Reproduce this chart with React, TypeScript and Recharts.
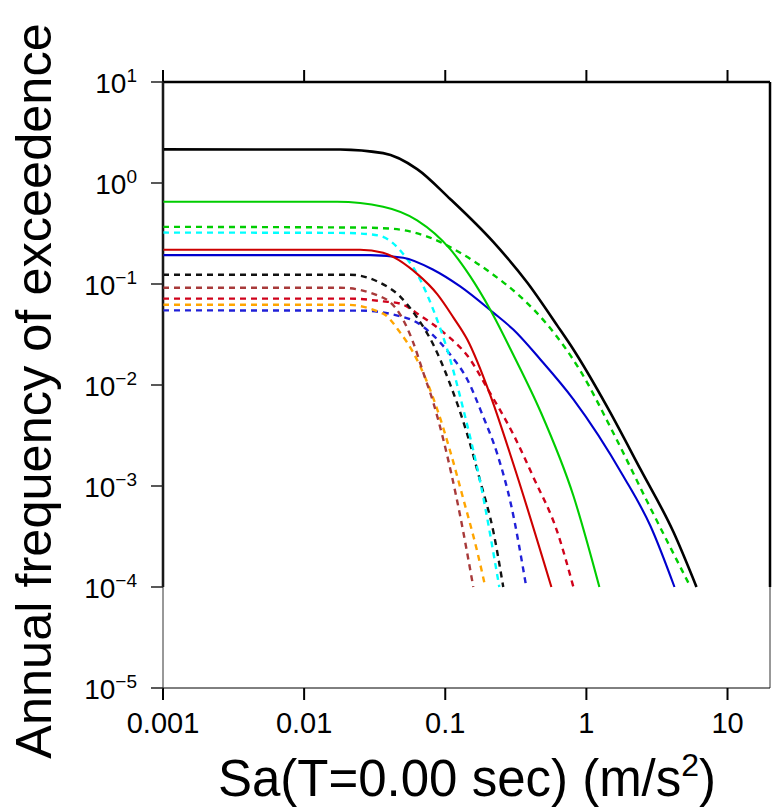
import { LineChart, Line, XAxis, YAxis, ReferenceLine } from 'recharts';

type Pt = [number, number];

// axis ticks
const saTicks = [0.001, 0.01, 0.1, 1, 10];
const saTickLabels = ['0.001', '0.01', '0.1', '1', '10'];
const freqTicks = [1e-5, 1e-4, 1e-3, 1e-2, 1e-1, 1, 10];
const freqExponents = ['−5', '−4', '−3', '−2', '−1', '0', '1'];

// hazard curves: [Sa (m/s2), annual frequency]
const totalSolid: Pt[] = [
  [0.001, 2.153], [0.018, 2.143], [0.0363, 1.977], [0.0632, 1.374], [0.1084, 0.695],
  [0.2188, 0.261], [0.382, 0.1028], [0.622, 0.0387], [0.809, 0.02244], [1.41, 0.006],
  [2.415, 0.001466], [4.14, 0.00035], [6.03, 0.0001],
];
const greenSolid: Pt[] = [
  [0.001, 0.653], [0.01714, 0.653], [0.0363, 0.583], [0.0632, 0.427], [0.1084, 0.2213],
  [0.1503, 0.1189], [0.2084, 0.0557], [0.3034, 0.01995], [0.472, 0.0055], [0.809, 0.0008],
  [1.236, 0.0001],
];
const greenDashed: Pt[] = [
  [0.001, 0.368], [0.02494, 0.362], [0.04276, 0.3516], [0.07447, 0.2951], [0.1276, 0.2037],
  [0.2188, 0.1236], [0.3404, 0.075], [0.5284, 0.0396], [0.9058, 0.0138], [1.552, 0.00335],
  [2.709, 0.000693], [5.47, 0.0001],
];
const cyanDashed: Pt[] = [
  [0.001, 0.323], [0.018, 0.3206], [0.0294, 0.3103], [0.0363, 0.2931], [0.0504, 0.1982],
  [0.0665, 0.1102], [0.0822, 0.0557], [0.1033, 0.02244], [0.1343, 0.00574], [0.177, 0.00109],
  [0.2415, 0.0001],
];
const redSolid: Pt[] = [
  [0.001, 0.218], [0.0249, 0.218], [0.0363, 0.2037], [0.0632, 0.1259], [0.0877, 0.0794],
  [0.114, 0.0468], [0.1432, 0.0282], [0.2084, 0.00794], [0.3034, 0.00166], [0.565, 0.0001],
];
const blueSolid: Pt[] = [
  [0.001, 0.1932], [0.0294, 0.1932], [0.0504, 0.182], [0.0822, 0.1384], [0.1276, 0.0946],
  [0.2188, 0.0521], [0.3034, 0.0354], [0.472, 0.0179], [0.809, 0.00721],
  [1.828, 0.00125], [2.844, 0.000402], [4.21, 0.0001],
];
const blackDashed: Pt[] = [
  [0.001, 0.1236], [0.02118, 0.1236], [0.03296, 0.1062], [0.04797, 0.075], [0.0632, 0.04645],
  [0.0822, 0.02518], [0.1084, 0.01014], [0.1432, 0.00325], [0.177, 0.001117], [0.2188, 0.000358],
  [0.2576, 0.0001],
];
const brownDashed: Pt[] = [
  [0.001, 0.0918], [0.018, 0.0918], [0.0363, 0.0731], [0.04797, 0.0497], [0.0593, 0.0263],
  [0.0698, 0.0133], [0.0822, 0.00673], [0.0968, 0.0029], [0.1276, 0.000505], [0.158, 0.0001],
];
const redDashed: Pt[] = [
  [0.001, 0.0716], [0.02118, 0.0716], [0.0363, 0.0673], [0.04797, 0.0639], [0.0665, 0.0486],
  [0.1033, 0.0309], [0.1432, 0.01959], [0.2084, 0.00826], [0.3034, 0.00325], [0.4207, 0.001225],
  [0.6223, 0.000351], [0.809, 0.0001],
];
const orangeDashed: Pt[] = [
  [0.001, 0.0624], [0.01954, 0.0624], [0.0363, 0.0508], [0.04797, 0.033], [0.0593, 0.02094],
  [0.0745, 0.01062], [0.0877, 0.00574], [0.1084, 0.00221], [0.1343, 0.000743], [0.1687, 0.000223],
  [0.1923, 0.0001],
];
const blueDashed: Pt[] = [
  [0.001, 0.0548], [0.02494, 0.0545], [0.04797, 0.0479], [0.0612, 0.0425], [0.0783, 0.033],
  [0.1084, 0.02004], [0.1432, 0.01135], [0.1828, 0.00513], [0.2339, 0.002066], [0.2938, 0.000634],
  [0.375, 0.0001],
];

const curves = [
  { id: 'blueDashed', pts: blueDashed, color: '#2020d8', dashed: true },
  { id: 'orangeDashed', pts: orangeDashed, color: '#ffa500', dashed: true },
  { id: 'redDashed', pts: redDashed, color: '#d0021b', dashed: true },
  { id: 'brownDashed', pts: brownDashed, color: '#a83a3a', dashed: true },
  { id: 'blackDashed', pts: blackDashed, color: '#111111', dashed: true },
  { id: 'cyanDashed', pts: cyanDashed, color: '#00ffff', dashed: true },
  { id: 'greenDashed', pts: greenDashed, color: '#00cd00', dashed: true },
  { id: 'blueSolid', pts: blueSolid, color: '#0000cd', dashed: false },
  { id: 'redSolid', pts: redSolid, color: '#cd0000', dashed: false },
  { id: 'greenSolid', pts: greenSolid, color: '#00cd00', dashed: false },
  { id: 'totalSolid', pts: totalSolid, color: '#000000', dashed: false },
];

const FONT = '"Liberation Sans", Arial, Helvetica, sans-serif';

const SaTick = (props: any) => {
  const { x, y, index } = props;
  return (
    <text x={x} y={y + 31} textAnchor="middle" fontSize={29} fontFamily={FONT} fill="#000">
      {saTickLabels[index]}
    </text>
  );
};

const FreqTick = (props: any) => {
  const { x, y, index } = props;
  return (
    <text x={x - 12} y={y + 11} textAnchor="end" fontSize={28} fontFamily={FONT} fill="#000">
      <tspan>10</tspan>
      <tspan dy={-11} fontSize={19}>{freqExponents[index]}</tspan>
    </text>
  );
};

export default function App() {
  return (
    <div style={{ position: 'relative', width: 772, height: 811, background: '#fff' }}>
      <style>{'body{margin:0}'}</style>
      <LineChart width={772} height={811} margin={{ top: 0, right: 2, left: 0, bottom: 0 }}>
        <XAxis
          dataKey="x"
          type="number"
          scale="log"
          domain={[0.001, 20]}
          allowDataOverflow
          ticks={saTicks}
          height={123}
          tickSize={12}
          axisLine={{ stroke: '#000', strokeWidth: 1 }}
          tickLine={{ stroke: '#000', strokeWidth: 2 }}
          tick={<SaTick />}
          interval={0}
        />
        <XAxis
          xAxisId="top"
          orientation="top"
          dataKey="x"
          type="number"
          scale="log"
          domain={[0.001, 20]}
          allowDataOverflow
          ticks={saTicks}
          height={82}
          tickSize={12}
          axisLine={{ stroke: '#000', strokeWidth: 2.5 }}
          tickLine={{ stroke: '#000', strokeWidth: 2 }}
          tickFormatter={() => ''}
          interval={0}
        />
        <YAxis
          type="number"
          scale="log"
          domain={[1e-5, 10]}
          allowDataOverflow
          ticks={freqTicks}
          width={163}
          tickSize={12}
          axisLine={{ stroke: '#333', strokeWidth: 1 }}
          tickLine={{ stroke: '#222', strokeWidth: 1.5 }}
          tick={<FreqTick />}
          interval={0}
        />
        <ReferenceLine segment={[{ x: 0.001, y: 1e-4 }, { x: 0.001, y: 10 }]} stroke="#000" strokeWidth={2.5} />
        <ReferenceLine segment={[{ x: 20, y: 1e-5 }, { x: 20, y: 1e-4 }]} stroke="#333" strokeWidth={1} />
        <ReferenceLine segment={[{ x: 20, y: 1e-4 }, { x: 20, y: 10 }]} stroke="#000" strokeWidth={2.5} />
        {curves.map((c) => (
          <Line
            key={c.id}
            data={c.pts.map(([x, y]) => ({ x, y }))}
            dataKey="y"
            type="monotone"
            stroke={c.color}
            strokeWidth={c.id === 'totalSolid' ? 2.6 : c.dashed ? 2.4 : 2.1}
            strokeDasharray={c.dashed ? '6 5' : undefined}
            dot={false}
            activeDot={false}
            isAnimationActive={false}
          />
        ))}
      </LineChart>
      <svg
        width={772}
        height={811}
        style={{ position: 'absolute', left: 0, top: 0, pointerEvents: 'none' }}
      >
        <text x={467} y={796} textAnchor="middle" fontSize={51} fontFamily={FONT} fill="#000">
          Sa(T=0.00 sec) (m/s<tspan dy={-20} fontSize={32}>2</tspan>
          <tspan dy={20}>)</tspan>
        </text>
        <text
          transform="rotate(-90)"
          x={-391}
          y={51}
          textAnchor="middle"
          fontSize={50.5}
          fontFamily={FONT}
          fill="#000"
        >
          Annual frequency of exceedence
        </text>
      </svg>
    </div>
  );
}
